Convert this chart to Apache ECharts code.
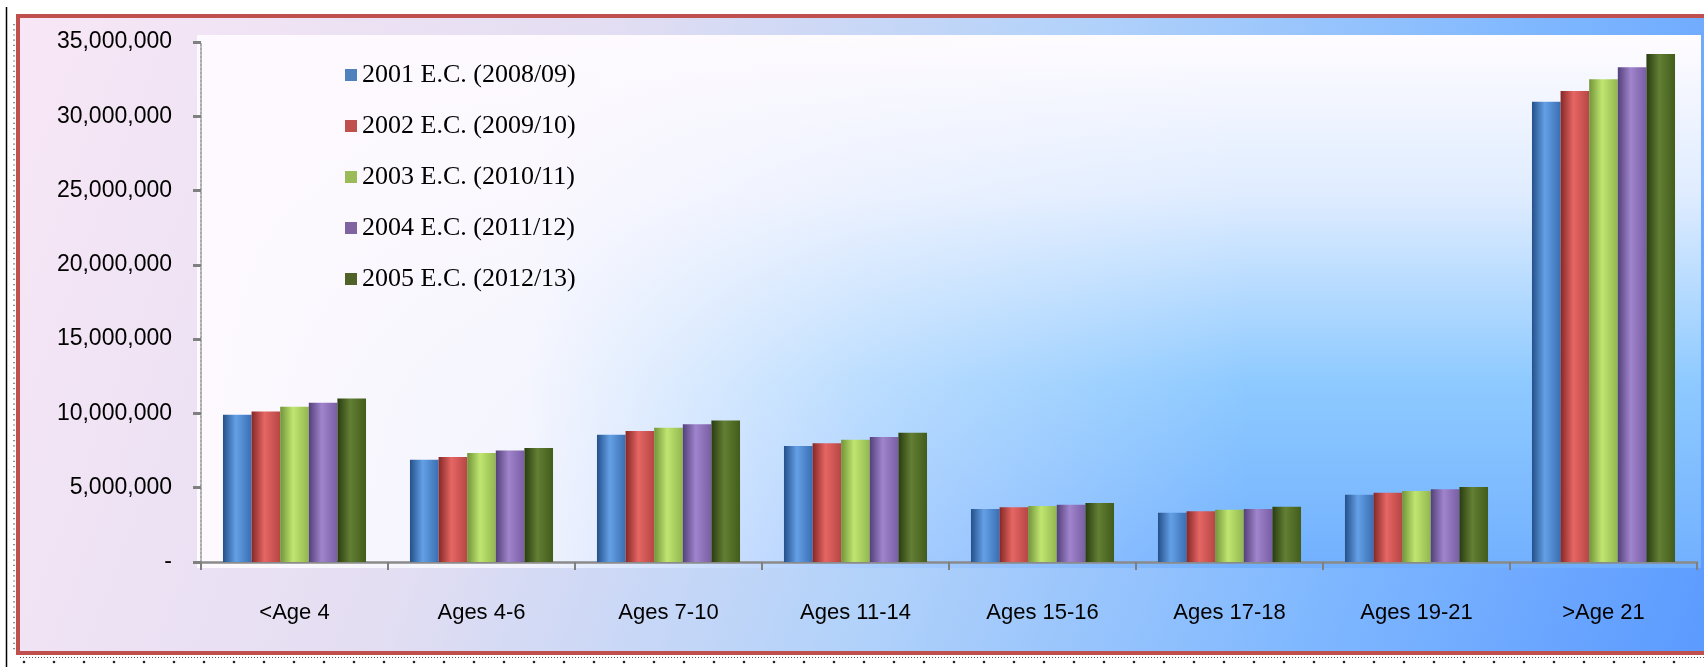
<!DOCTYPE html>
<html>
<head>
<meta charset="utf-8">
<script src="https://cdn.jsdelivr.net/npm/echarts@6/dist/echarts.min.js"></script>
<style>
  html, body { margin: 0; padding: 0; background: #fff; }
  #chart { width: 1704px; height: 667px; }
</style>
</head>
<body>
<div id="chart"></div>
<script>
// categories + values
const categories = ['<Age 4', 'Ages 4-6', 'Ages 7-10', 'Ages 11-14', 'Ages 15-16', 'Ages 17-18', 'Ages 19-21', '>Age 21']
const seriesNames = ['2001 E.C. (2008/09)', '2002 E.C. (2009/10)', '2003 E.C. (2010/11)', '2004 E.C. (2011/12)', '2005 E.C. (2012/13)']
const y2001 = [9910000, 6890000, 8570000, 7800000, 3570000, 3320000, 4530000, 30980000]
const y2002 = [10130000, 7070000, 8810000, 8000000, 3680000, 3410000, 4660000, 31700000]
const y2003 = [10450000, 7340000, 9040000, 8230000, 3770000, 3520000, 4780000, 32500000]
const y2004 = [10720000, 7500000, 9280000, 8410000, 3860000, 3570000, 4890000, 33300000]
const y2005 = [11010000, 7680000, 9530000, 8700000, 3970000, 3720000, 5040000, 34200000]
const yTicks = [0, 5000000, 10000000, 15000000, 20000000, 25000000, 30000000, 35000000]

const allValues = [y2001, y2002, y2003, y2004, y2005]
// flat colours for legend, [dark, light, mid] for the cylinder look
const flatColors = ['#4f81bd', '#c0504d', '#9bbb59', '#8064a2', '#4f6228']
const barShades = [
  ['#24508a', '#64a0e6', '#3a6eb2'],
  ['#842826', '#e66664', '#b64644'],
  ['#72943a', '#c0e670', '#92b650'],
  ['#53407a', '#a084cc', '#7a5ea4'],
  ['#2a3c10', '#627f34', '#425c1a'],
]

const chartDom = document.getElementById('chart')
const myChart = echarts.init(chartDom)

const cylinder = (c) => new echarts.graphic.LinearGradient(0, 0, 1, 0, [
  { offset: 0, color: c[0] },
  { offset: 0.45, color: c[1] },
  { offset: 1, color: c[2] },
])

const series = seriesNames.map((name, i) => ({
  name: name,
  type: 'bar',
  barGap: '0%',
  barCategoryGap: '23.5%',
  itemStyle: { color: cylinder(barShades[i]) },
  data: allValues[i],
}))

// dotted ruler along the bottom
const rulerDots = []
for (let x = 24; x < 1704; x += 30) {
  rulerDots.push({ type: 'circle', shape: { cx: x, cy: 662, r: 1.3 }, style: { fill: '#222' }, silent: true })
}

const option = {
  animation: false,
  textStyle: { fontFamily: 'Liberation Sans, Arial, sans-serif' },
  graphic: [
    // left black rule + dotted line
    { type: 'line', shape: { x1: 6.5, y1: 7, x2: 6.5, y2: 667 }, style: { stroke: '#000', lineWidth: 1.5 }, silent: true },
    { type: 'line', shape: { x1: 14, y1: 24, x2: 14, y2: 650 }, style: { stroke: '#444', lineWidth: 1.2, lineDash: [1.2, 4] }, silent: true },
    { type: 'line', shape: { x1: 20, y1: 657.5, x2: 1704, y2: 657.5 }, style: { stroke: '#555', lineWidth: 1, lineDash: [1, 2] }, silent: true },
    ...rulerDots,
    // outer frame
    {
      type: 'rect', z: -10, silent: true,
      shape: { x: 18, y: 16, width: 1700, height: 637 },
      style: {
        fill: new echarts.graphic.LinearGradient(0, 0, 1, 1, [
          { offset: 0, color: '#f8e7f6' },
          { offset: 0.3, color: '#e4def2' },
          { offset: 0.55, color: '#b2d2fa' },
          { offset: 0.78, color: '#80b8ff' },
          { offset: 1, color: '#5a99ff' },
        ]),
        stroke: '#c0504d',
        lineWidth: 4,
      },
    },
    // plot area: white top -> blue bottom, then a white wash from the left
    {
      type: 'rect', z: -9, silent: true,
      shape: { x: 197, y: 35, width: 1504, height: 533 },
      style: {
        fill: new echarts.graphic.LinearGradient(0, 0, 0, 1, [
          { offset: 0, color: '#fffcff' },
          { offset: 0.3, color: '#dfecff' },
          { offset: 0.65, color: '#8ecaff' },
          { offset: 1, color: '#72b0ff' },
        ]),
      },
    },
    {
      type: 'rect', z: -8, silent: true,
      shape: { x: 197, y: 35, width: 1504, height: 533 },
      style: {
        fill: new echarts.graphic.LinearGradient(0, 0, 1, 0, [
          { offset: 0, color: 'rgba(253,249,254,1)' },
          { offset: 0.22, color: 'rgba(253,249,254,0.92)' },
          { offset: 0.45, color: 'rgba(253,249,254,0.4)' },
          { offset: 0.7, color: 'rgba(253,249,254,0)' },
          { offset: 1, color: 'rgba(253,249,254,0)' },
        ]),
      },
    },
  ],
  legend: {
    orient: 'vertical',
    left: 340,
    top: 57,
    itemWidth: 12,
    itemHeight: 12,
    itemGap: 25,
    icon: 'rect',
    data: seriesNames.map((n, i) => ({ name: n, itemStyle: { color: flatColors[i] } })),
    textStyle: {
      fontFamily: 'Liberation Serif, Times New Roman, serif',
      fontSize: 26,
      color: '#000',
    },
  },
  grid: {
    left: 201,
    right: 7,
    top: 42,
    bottom: 105,
    containLabel: false,
  },
  xAxis: {
    type: 'category',
    data: categories,
    axisLine: { lineStyle: { color: '#8a8a8a', width: 2.5 } },
    axisTick: { show: true, length: 8, lineStyle: { color: '#7f7f7f', width: 2 } },
    axisLabel: { color: '#000', fontSize: 22, margin: 40 },
    splitLine: { show: false },
  },
  yAxis: {
    type: 'value',
    min: yTicks[0],
    max: yTicks[yTicks.length - 1],
    interval: yTicks[1] - yTicks[0],
    axisLine: { show: true, lineStyle: { color: '#aaaaaa', width: 2, type: [2, 2] } },
    axisTick: { show: true, length: 8, lineStyle: { color: '#808080', width: 3 } },
    axisLabel: {
      color: '#000',
      fontSize: 23,
      margin: 29,
      formatter: (v) => (v === 0 ? '-' : v.toLocaleString('en-US')),
    },
    splitLine: { show: false },
  },
  series: series,
}
option && myChart.setOption(option)
window.onresize = () => {
  myChart.resize()
}
</script>
</body>
</html>
